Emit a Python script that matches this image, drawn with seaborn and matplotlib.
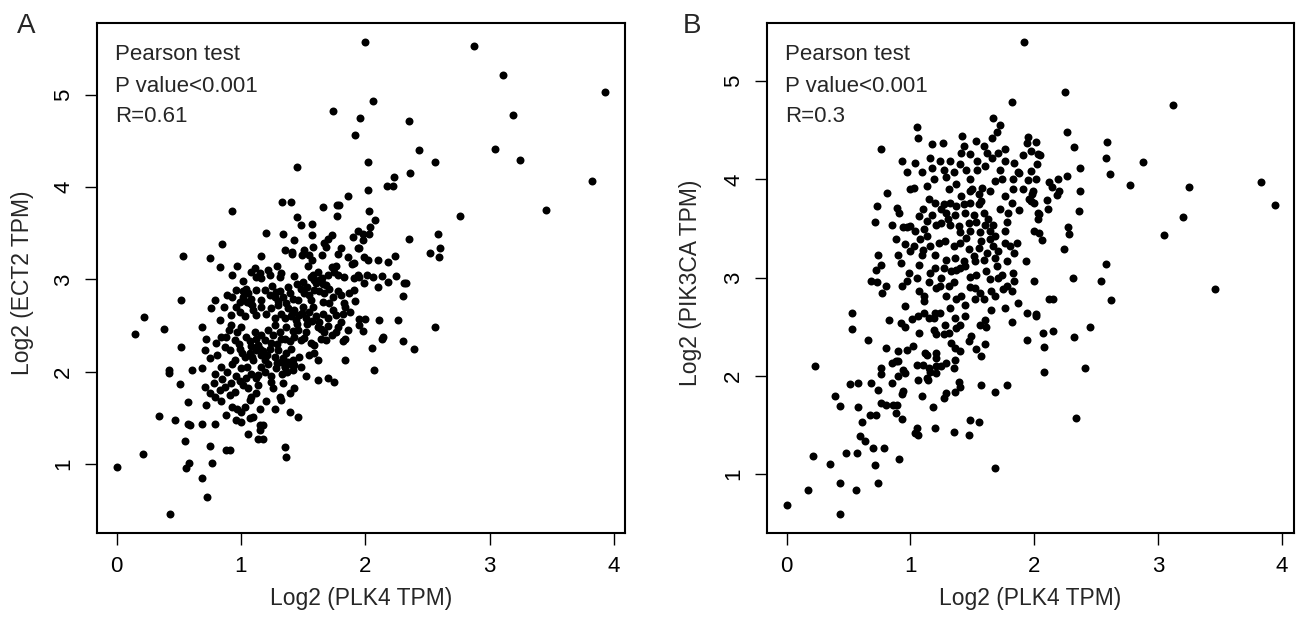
import matplotlib
matplotlib.use("Agg")
import matplotlib.pyplot as plt
import seaborn as sns
import pandas as pd

x_label = "Log2 (PLK4 TPM)"
ect2_label = "Log2 (ECT2 TPM)"
pik3ca_label = "Log2 (PIK3CA TPM)"
stats_a = ["Pearson test", "P value<0.001", "R=0.61"]
stats_b = ["Pearson test", "P value<0.001", "R=0.3"]
x_ticks = [0, 1, 2, 3, 4]
y_ticks = [1, 2, 3, 4, 5]

# (PLK4, ECT2) pairs
ect2_points = [
    (2.00, 5.57), (2.87, 5.53), (3.11, 5.21), (3.93, 5.03), (2.06, 4.93), (3.19, 4.78), (1.96, 4.75),
    (2.35, 4.71), (2.43, 4.40), (3.04, 4.41), (3.24, 4.29), (2.56, 4.27), (2.02, 4.27), (2.36, 4.15),
    (2.23, 4.11), (2.17, 4.01), (2.22, 4.01), (3.82, 4.06), (2.02, 3.97), (3.45, 3.75), (2.76, 3.69),
    (2.03, 3.74), (2.08, 3.64), (2.04, 3.57), (1.98, 3.49), (2.03, 3.49), (1.98, 3.43), (1.95, 3.34),
    (2.35, 3.44), (2.58, 3.49), (2.60, 3.34), (2.52, 3.29), (2.59, 3.24), (1.99, 3.24), (2.02, 3.21),
    (2.10, 3.21), (2.18, 3.19), (2.24, 3.25), (1.95, 3.03), (2.01, 3.05), (2.06, 3.03), (2.13, 3.04),
    (1.99, 2.96), (2.10, 2.92), (2.18, 2.97), (2.25, 3.04), (2.31, 2.96), (2.33, 2.96), (2.30, 2.82),
    (2.00, 2.57), (2.11, 2.56), (2.26, 2.56), (1.95, 2.51), (1.98, 2.44), (2.14, 2.38), (2.13, 2.35),
    (2.30, 2.33), (2.05, 2.26), (2.39, 2.25), (2.56, 2.48), (2.07, 2.02),
    (1.74, 4.82), (1.92, 4.56), (1.45, 4.22), (1.86, 3.90), (1.33, 3.84), (1.40, 3.84), (1.66, 3.78),
    (1.77, 3.81), (1.79, 3.81), (1.77, 3.69), (1.45, 3.68), (1.48, 3.59), (1.57, 3.60), (1.20, 3.50),
    (1.34, 3.49), (1.57, 3.48), (1.43, 3.43), (1.73, 3.48), (1.70, 3.44), (1.67, 3.39), (1.68, 3.35),
    (1.58, 3.35), (1.51, 3.32), (1.35, 3.32), (1.41, 3.30), (1.41, 3.28), (1.49, 3.26), (1.55, 3.26),
    (1.57, 3.21), (1.65, 3.26), (1.78, 3.28), (1.80, 3.34), (1.90, 3.46), (1.94, 3.52), (1.94, 3.34),
    (1.86, 3.24), (1.16, 3.25), (1.91, 3.18),
    (0.93, 3.74), (0.85, 3.38), (0.53, 3.25), (0.75, 3.23), (0.52, 2.78), (0.22, 2.59), (0.38, 2.46),
    (0.15, 2.41), (0.52, 2.27), (0.42, 2.02), (0.42, 1.99), (0.61, 2.02), (0.51, 1.87), (0.57, 1.67),
    (0.34, 1.52), (0.47, 1.48), (0.57, 1.44), (0.59, 1.42), (0.55, 1.25), (0.21, 1.11), (0.00, 0.97),
    (0.58, 1.01), (0.56, 0.96), (0.77, 1.01), (0.69, 0.85), (0.73, 0.64), (0.43, 0.46),
    (0.83, 3.13), (0.93, 3.05), (1.11, 3.12), (1.15, 3.07), (1.12, 3.03), (1.16, 3.01), (1.22, 3.10),
    (1.23, 3.05), (1.29, 3.14), (1.32, 3.07), (1.31, 3.03), (1.43, 3.04), (1.54, 3.15), (1.56, 3.03),
    (1.59, 2.99), (1.60, 2.96), (1.63, 2.99), (1.66, 2.95), (1.68, 2.94), (1.73, 3.13), (1.76, 3.15),
    (1.75, 3.08), (1.78, 3.05), (1.83, 3.03), (1.89, 3.17), (1.91, 3.01), (1.94, 3.05), (1.91, 2.89),
    (0.79, 2.78), (0.89, 2.83), (0.93, 2.81), (0.96, 2.89), (0.99, 2.76), (1.02, 2.81), (1.04, 2.90),
    (1.06, 2.85), (1.08, 2.79), (1.12, 2.89), (1.16, 2.78), (1.19, 2.89), (1.23, 2.83), (1.27, 2.81),
    (1.31, 2.87), (1.34, 2.81), (1.38, 2.92), (1.39, 2.85), (1.42, 2.79), (1.46, 2.78), (1.48, 2.90),
    (1.51, 2.85), (1.55, 2.83), (1.56, 2.78), (1.59, 2.89), (1.63, 2.87), (1.67, 2.85), (1.71, 2.90),
    (1.74, 2.81), (1.78, 2.87), (1.80, 2.83), (1.83, 2.74), (1.71, 2.74), (1.66, 2.76),
    (0.76, 2.69), (0.83, 2.56), (0.92, 2.61), (0.96, 2.70), (0.99, 2.65), (1.03, 2.60), (1.07, 2.74),
    (1.10, 2.67), (1.12, 2.61), (1.16, 2.70), (1.20, 2.63), (1.24, 2.69), (1.27, 2.58), (1.30, 2.72),
    (1.32, 2.63), (1.35, 2.58), (1.38, 2.69), (1.40, 2.60), (1.43, 2.67), (1.44, 2.56), (1.47, 2.61),
    (1.50, 2.70), (1.52, 2.58), (1.55, 2.65), (1.58, 2.70), (1.60, 2.60), (1.63, 2.54), (1.66, 2.63),
    (1.70, 2.58), (1.74, 2.67), (1.76, 2.61), (1.80, 2.54), (1.84, 2.70), (1.82, 2.63), (1.95, 2.57),
    (0.69, 2.49), (0.72, 2.36), (0.80, 2.31), (0.84, 2.38), (0.88, 2.38), (0.92, 2.51), (0.95, 2.34),
    (0.97, 2.43), (1.00, 2.49), (1.04, 2.38), (1.07, 2.33), (1.11, 2.43), (1.14, 2.29), (1.16, 2.40),
    (1.19, 2.34), (1.22, 2.45), (1.24, 2.31), (1.27, 2.51), (1.31, 2.43), (1.32, 2.36), (1.36, 2.49),
    (1.39, 2.33), (1.43, 2.38), (1.46, 2.45), (1.48, 2.34), (1.52, 2.43), (1.56, 2.31), (1.59, 2.29),
    (1.62, 2.49), (1.64, 2.36), (1.67, 2.43), (1.68, 2.34), (1.76, 2.43), (1.82, 2.33), (1.84, 2.36),
    (0.71, 2.24), (0.75, 2.15), (0.81, 2.18), (0.87, 2.27), (0.91, 2.24), (0.95, 2.13), (0.99, 2.25),
    (1.03, 2.16), (1.07, 2.20), (1.10, 2.13), (1.12, 2.24), (1.16, 2.18), (1.19, 2.13), (1.23, 2.25),
    (1.27, 2.16), (1.30, 2.24), (1.34, 2.15), (1.36, 2.20), (1.40, 2.25), (1.42, 2.13), (1.47, 2.16),
    (1.55, 2.18), (1.59, 2.20), (1.62, 2.13), (1.84, 2.13),
    (0.69, 2.04), (0.79, 1.98), (0.84, 2.05), (0.89, 2.00), (0.93, 2.09), (0.96, 1.96), (1.00, 2.04),
    (1.04, 1.93), (1.08, 1.98), (1.12, 1.93), (1.16, 2.05), (1.19, 2.00), (1.22, 2.09), (1.24, 1.96),
    (1.28, 2.04), (1.32, 2.11), (1.35, 2.05), (1.38, 2.11), (1.42, 2.02), (1.43, 2.07), (1.62, 1.91),
    (1.70, 1.93), (1.75, 1.89),
    (0.71, 1.84), (0.75, 1.77), (0.79, 1.73), (0.83, 1.80), (0.87, 1.84), (0.91, 1.75), (0.95, 1.78),
    (1.02, 1.86), (1.06, 1.82), (1.08, 1.73), (1.12, 1.77), (1.14, 1.86), (1.24, 1.89), (1.31, 1.73),
    (1.32, 1.69), (1.39, 1.77), (1.43, 1.82), (1.20, 1.68),
    (0.72, 1.64), (0.84, 1.68), (0.88, 1.53), (0.93, 1.62), (0.97, 1.60), (1.00, 1.57), (1.03, 1.62),
    (1.07, 1.69), (1.10, 1.51), (1.15, 1.60), (1.27, 1.60), (1.39, 1.57), (1.46, 1.51), (0.69, 1.44),
    (0.79, 1.44), (0.96, 1.48), (1.00, 1.46), (1.07, 1.50), (1.15, 1.42), (1.18, 1.42), (1.06, 1.33),
    (1.14, 1.27), (1.15, 1.37), (1.18, 1.27), (0.75, 1.20), (0.88, 1.15), (0.91, 1.15), (1.35, 1.19),
    (1.36, 1.08),
    (1.02, 2.87), (1.05, 2.76), (1.09, 2.72), (1.25, 2.93), (1.28, 2.86), (1.30, 2.77), (1.36, 2.74),
    (1.41, 2.63), (1.45, 2.52), (1.49, 2.64), (1.53, 2.52), (1.57, 2.55), (1.35, 2.05), (1.37, 2.00),
    (1.40, 2.08), (1.33, 1.98), (1.29, 2.10), (1.08, 2.28), (1.12, 2.35), (1.15, 2.25), (1.18, 2.22),
    (1.09, 2.16), (1.21, 2.18), (1.58, 3.05), (1.62, 3.08), (1.65, 3.02), (1.70, 3.05), (1.45, 2.95),
    (1.50, 2.97), (1.53, 2.92), (0.86, 2.70), (0.90, 2.45), (0.98, 2.30), (1.01, 2.20), (1.26, 2.40),
    (1.29, 2.30), (1.35, 2.35), (1.42, 2.44), (1.51, 2.37), (1.64, 2.46), (1.70, 2.50), (1.73, 2.40),
    (1.78, 2.48), (1.86, 2.45), (1.88, 2.65), (1.92, 2.77), (1.87, 2.85), (0.99, 1.90), (1.05, 2.05),
    (1.14, 1.97), (0.85, 1.92), (0.78, 1.88), (0.92, 1.88), (1.26, 1.82), (1.34, 1.88), (1.48, 2.05),
    (1.52, 1.95), (1.02, 2.98), (1.08, 3.08), (0.97, 3.15),
]

# (PLK4, PIK3CA) pairs
pik3ca_points = [
    (1.92, 5.40), (2.25, 4.89), (3.12, 4.76), (2.26, 4.48), (2.32, 4.33), (2.59, 4.38), (2.58, 4.22),
    (2.88, 4.18), (2.37, 4.12), (2.61, 4.05), (2.77, 3.94), (3.25, 3.92), (3.83, 3.97), (3.94, 3.74),
    (2.37, 3.88), (2.36, 3.68), (3.20, 3.62), (3.05, 3.43), (3.46, 2.88), (2.58, 3.14), (2.31, 3.00),
    (2.54, 2.96), (2.62, 2.77), (2.45, 2.50), (2.32, 2.39), (2.41, 2.08), (2.34, 1.57), (2.27, 3.51),
    (2.28, 3.44), (2.24, 3.29), (2.26, 4.03), (2.19, 4.00), (2.12, 3.97), (2.14, 3.92), (2.20, 3.88),
    (2.18, 3.84), (2.10, 3.79), (2.11, 3.70), (2.03, 3.66), (2.04, 3.65), (2.03, 3.60), (2.00, 3.47),
    (2.04, 3.45), (2.06, 3.38), (1.93, 3.17), (2.00, 2.96), (2.12, 2.78), (2.15, 2.78), (1.94, 2.64),
    (2.01, 2.63), (2.01, 2.61), (2.07, 2.44), (2.15, 2.46), (1.94, 2.36), (2.08, 2.29), (2.08, 2.04),
    (1.95, 4.43), (1.94, 4.37), (2.01, 4.38), (1.91, 4.25), (1.97, 4.29), (2.03, 4.26), (2.05, 4.25),
    (2.02, 4.16), (1.97, 4.09), (1.88, 4.06), (1.95, 3.99), (2.01, 4.00), (1.91, 3.90), (1.99, 3.88),
    (1.98, 3.85), (1.96, 3.80), (2.00, 3.76), (1.97, 3.78), (1.88, 3.69), (1.68, 1.06),
    (1.27, 3.75), (1.32, 3.76), (1.37, 3.73), (1.43, 3.75), (1.48, 3.76), (1.55, 3.75), (1.57, 3.78),
    (1.29, 3.66), (1.36, 3.64), (1.44, 3.66), (1.51, 3.64), (1.59, 3.66), (1.25, 3.56), (1.32, 3.54),
    (1.39, 3.52), (1.47, 3.56), (1.53, 3.57), (1.60, 3.54), (1.67, 3.54), (1.40, 3.46), (1.48, 3.47),
    (1.56, 3.46), (1.64, 3.47), (1.68, 3.42), (1.76, 3.47), (1.79, 3.66), (1.82, 3.76), (1.78, 3.57),
    (1.28, 3.37), (1.35, 3.32), (1.40, 3.35), (1.47, 3.29), (1.51, 3.22), (1.57, 3.37), (1.64, 3.39),
    (1.67, 3.32), (1.71, 3.27), (1.76, 3.35), (1.80, 3.32), (1.86, 3.35), (1.29, 3.18), (1.36, 3.20),
    (1.43, 3.17), (1.52, 3.17), (1.59, 3.18), (1.68, 3.20), (1.78, 3.17), (1.84, 3.25), (1.27, 3.10),
    (1.33, 3.07), (1.37, 3.08), (1.44, 3.12), (1.48, 3.01), (1.53, 3.03), (1.61, 3.07), (1.64, 2.98),
    (1.71, 3.00), (1.74, 3.03), (1.83, 3.05), (1.84, 2.96), (1.29, 2.81), (1.37, 2.78), (1.41, 2.81),
    (1.44, 2.72), (1.52, 2.89), (1.56, 2.84), (1.59, 2.78), (1.52, 2.78), (1.65, 2.86), (1.68, 2.81),
    (1.75, 2.88), (1.78, 2.91), (1.82, 2.86), (1.24, 2.91), (1.31, 2.91), (1.32, 2.69), (1.24, 2.64),
    (1.28, 2.52), (1.36, 2.59), (1.40, 2.52), (1.44, 2.61), (1.37, 2.49), (1.49, 2.40), (1.56, 2.52),
    (1.60, 2.57), (1.61, 2.50), (1.65, 2.67), (1.76, 2.69), (1.82, 2.55), (1.87, 2.74), (1.27, 2.42),
    (1.31, 2.44), (1.33, 2.33), (1.36, 2.28), (1.40, 2.25), (1.47, 2.35), (1.53, 2.27), (1.57, 2.20),
    (1.60, 2.32), (1.29, 2.13), (1.36, 2.16), (1.35, 2.08), (1.25, 2.10), (1.39, 1.94), (1.40, 1.89),
    (1.36, 1.83), (1.29, 1.82), (1.27, 1.77), (1.57, 1.91), (1.68, 1.83), (1.78, 1.91), (1.48, 1.55),
    (1.55, 1.53), (1.35, 1.43), (1.47, 1.40),
    (1.82, 4.79), (1.67, 4.62), (1.72, 4.55), (1.70, 4.48), (1.66, 4.42), (1.05, 4.53), (1.06, 4.42),
    (1.42, 4.44), (1.53, 4.39), (0.76, 4.31), (1.17, 4.36), (1.26, 4.37), (1.43, 4.34), (1.59, 4.34),
    (1.76, 4.31), (1.41, 4.27), (1.48, 4.26), (1.62, 4.27), (1.71, 4.27), (1.66, 4.22), (0.93, 4.19),
    (1.04, 4.17), (1.16, 4.22), (1.24, 4.19), (1.32, 4.19), (1.40, 4.16), (1.54, 4.19), (1.76, 4.19),
    (1.84, 4.17), (0.97, 4.07), (1.09, 4.08), (1.17, 4.12), (1.27, 4.10), (1.35, 4.07), (1.54, 4.10),
    (1.60, 4.14), (1.72, 4.10), (1.87, 4.07), (0.81, 3.86), (1.00, 3.90), (1.19, 4.00), (1.29, 4.02),
    (1.37, 3.95), (1.48, 4.00), (1.68, 3.98), (1.74, 4.00), (1.83, 4.00), (1.03, 3.91), (1.13, 3.93),
    (1.31, 3.90), (1.48, 3.88), (1.41, 3.83), (1.58, 3.91), (1.64, 3.88), (1.76, 3.83), (1.83, 3.90),
    (0.73, 3.73), (0.89, 3.71), (0.91, 3.66), (1.15, 3.80), (1.20, 3.76), (0.71, 3.57), (0.85, 3.54),
    (0.97, 3.51), (1.07, 3.63), (1.17, 3.64), (0.94, 3.51), (1.00, 3.52), (1.04, 3.47), (1.11, 3.49),
    (1.13, 3.42), (1.21, 3.54), (0.88, 3.39), (0.96, 3.34), (1.03, 3.32), (1.08, 3.39), (1.16, 3.32),
    (1.23, 3.35), (0.74, 3.23), (0.90, 3.23), (1.00, 3.27), (1.09, 3.23), (1.20, 3.23), (0.72, 3.08),
    (0.76, 3.13), (0.92, 3.15), (0.99, 3.05), (1.07, 3.13), (1.16, 3.05), (0.68, 2.96), (0.73, 2.95),
    (0.80, 2.91), (0.93, 2.91), (0.97, 2.96), (1.07, 2.86), (1.15, 2.95), (1.21, 2.89), (0.77, 2.84),
    (1.11, 2.81),
    (0.53, 2.64), (0.53, 2.48), (0.66, 2.36), (0.23, 2.10), (0.83, 2.57), (0.92, 2.54), (0.96, 2.50),
    (1.01, 2.58), (1.06, 2.61), (1.11, 2.64), (1.15, 2.59), (1.19, 2.59), (0.96, 2.71), (1.11, 2.76),
    (1.20, 2.64), (1.07, 2.44), (1.19, 2.47), (1.21, 2.42), (0.80, 2.28), (0.90, 2.25), (0.97, 2.26),
    (1.02, 2.30), (1.12, 2.23), (1.13, 2.21), (1.21, 2.23), (1.21, 2.18), (0.85, 2.13), (0.88, 2.15),
    (0.90, 2.15), (0.76, 2.08), (0.76, 2.02), (0.94, 2.06), (0.96, 2.03), (0.90, 2.00), (1.05, 2.11),
    (1.10, 2.11), (1.15, 2.08), (1.16, 2.04), (1.21, 2.10), (1.21, 2.03), (0.51, 1.92), (0.58, 1.93),
    (0.68, 1.93), (0.74, 1.85), (0.85, 1.93), (0.94, 1.84), (0.93, 1.81), (1.06, 1.96), (1.13, 1.98),
    (1.14, 1.96), (1.09, 1.79), (0.39, 1.79), (0.43, 1.69), (0.58, 1.68), (0.76, 1.72), (0.80, 1.70),
    (0.86, 1.70), (0.89, 1.70), (0.88, 1.62), (0.93, 1.56), (0.67, 1.60), (0.72, 1.60), (0.61, 1.53),
    (1.18, 1.68), (0.59, 1.39), (0.63, 1.34), (1.05, 1.47), (1.06, 1.40), (1.04, 1.42), (1.20, 1.47),
    (0.70, 1.26), (0.79, 1.26), (0.48, 1.21), (0.57, 1.21), (0.21, 1.18), (0.35, 1.10), (0.71, 1.09),
    (0.91, 1.15), (0.43, 0.91), (0.74, 0.91), (0.17, 0.84), (0.56, 0.84), (0.00, 0.68), (0.43, 0.59),
    (1.10, 3.70), (1.13, 3.58), (1.25, 3.70), (1.30, 3.60), (1.45, 3.40), (1.55, 3.30), (1.62, 3.25),
    (1.20, 3.10), (1.25, 3.00), (1.05, 3.00), (1.40, 3.10), (1.50, 3.90), (1.55, 3.85), (1.45, 4.10),
    (1.10, 3.28), (1.35, 2.95), (1.48, 2.90), (1.70, 3.12), (1.63, 3.60), (1.72, 3.70),
]

sns.set_style("white")
plt.rcParams["font.family"] = ["Liberation Sans", "DejaVu Sans"]

df_a = pd.DataFrame(ect2_points, columns=["plk4", "gene"])
df_b = pd.DataFrame(pik3ca_points, columns=["plk4", "gene"])


def draw_panel(ax, df, ylabel, stats, ylabel_x):
    sns.scatterplot(data=df, x="plk4", y="gene", ax=ax, color="black",
                    s=33, linewidth=0, legend=False)
    ax.margins(0.04)
    ax.set_xticks(x_ticks)
    ax.set_yticks(y_ticks)
    for sp in ax.spines.values():
        sp.set_visible(True)
        sp.set_linewidth(1.5)
        sp.set_color("black")
    ax.tick_params(direction="out", length=8.5, width=1.0, labelsize=16,
                   pad=8, colors="black", bottom=True, left=True)
    ax.tick_params(axis="y", labelrotation=90)
    for lab in ax.get_yticklabels():
        lab.set_va("center")
    ax.set_xlabel(x_label, fontsize=16.5)
    ax.set_ylabel(ylabel, fontsize=16.5)
    ax.xaxis.set_label_coords(0.5, -0.105)
    ax.yaxis.set_label_coords(ylabel_x, 0.49)
    for txt, ypos in zip(stats, [0.927, 0.865, 0.806]):
        ax.text(0.034, ypos, txt, transform=ax.transAxes, fontsize=16,
                va="baseline", ha="left")


fig = plt.figure(figsize=(13.01, 6.19), dpi=100)
ax_a = fig.add_axes([0.0746, 0.1389, 0.4058, 0.8239])
ax_b = fig.add_axes([0.5896, 0.1389, 0.4051, 0.8239])

draw_panel(ax_a, df_a, ect2_label, stats_a, -0.12)
draw_panel(ax_b, df_b, pik3ca_label, stats_b, -0.124)

fig.text(0.013, 0.947, "A", fontsize=20, va="baseline", ha="left")
fig.text(0.525, 0.947, "B", fontsize=20, va="baseline", ha="left")

fig.savefig("out.png", dpi=100)
